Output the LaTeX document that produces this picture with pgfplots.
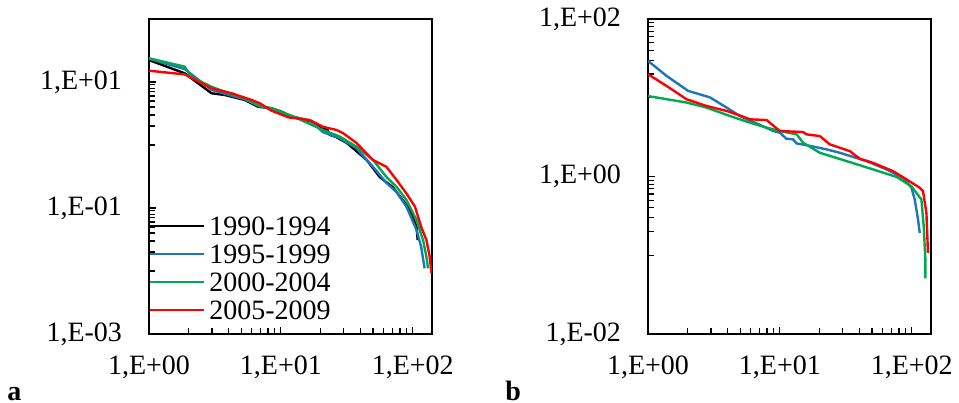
\documentclass[border=0pt]{standalone}
\usepackage{fontspec}
\setmainfont{Liberation Serif}
\usepackage{pgfplots}
\pgfplotsset{compat=1.18}

\definecolor{c90}{RGB}{0,0,0}
\definecolor{c95}{RGB}{31,117,188}
\definecolor{c00}{RGB}{0,168,80}
\definecolor{c05}{RGB}{255,0,0}

\newcommand{\lab}{\fontsize{14bp}{16bp}\selectfont}
\pgfplotsset{legend image code/.code={\draw[#1] (0bp,0bp) -- (27bp,0bp);}}

\begin{document}
\begin{tikzpicture}
\useasboundingbox (0,0) rectangle (479.5bp,201.5bp);

% panel a
\begin{axis}[
    at={(74.5bp,34.5bp)}, anchor=south west,
    xmode=log, ymode=log,
    scale only axis,
    width=141.5bp, height=157.5bp,
    xmin=1, xmax=140,
    xtick={1,10,100},
    xticklabels={{1,E+00},{1,E+01},{1,E+02}},
    minor xtick={2,3,4,5,6,7,8,9,20,30,40,50,60,70,80,90},
    ymin=0.001, ymax=100,
    ytick={0.001,0.1,10},
    yticklabels={{1,E-03},{1,E-01},{1,E+01}},
    minor ytick={0.01,0.02,0.03,0.04,0.05,0.06,0.07,0.08,0.09,1,2,3,4,5,6,7,8,9},
    tick pos=left, tick align=inside,
    major tick length=3.5bp, minor tick length=3bp,
    tick style={black, line width=0.6bp},
    axis line style={line width=0.75bp},
    tick label style={font=\lab},
    xticklabel style={yshift=-7.5bp},
    yticklabel style={xshift=-10bp},
    legend style={at={(rel axis cs:0,0)}, anchor=south west, yshift=5bp,
      draw=none, fill=none, inner sep=0pt, outer sep=0pt, row sep=0pt,
      font=\lab, column sep=2bp,
      nodes={inner sep=0pt, text height=11.6bp, text depth=2.4bp}},
    legend cell align=left,
  ]
  \addplot[c90, line width=1.2bp] coordinates {
    (1,22.3) (1.87,13.7) (2.98,6.62) (3.76,6.22) (5.34,5.18) (6.7,4.05)
    (8.5,3.83) (10.1,3.38) (12.1,2.81) (16.6,2.4) (20.8,1.84) (22.5,1.75)
    (23.5,1.45) (26,1.35) (31.6,1.08) (44.8,0.58) (56.2,0.31) (70.5,0.215)
    (84,0.134) (94.9,0.093) (107,0.05) (109,0.031)
  };
  \addlegendentry{1990-1994}
  \addplot[c95, line width=1.2bp] coordinates {
    (1,23.5) (1.87,16) (2.98,7.5) (3.76,6.5) (5.34,5.3) (6.7,4.2) (8.5,3.7)
    (12.1,2.85) (16.6,2.45) (20.9,1.6) (28,1.28) (37.4,0.89) (50,0.45)
    (63.2,0.25) (75.3,0.18) (89.6,0.105) (106.7,0.045) (116,0.024) (123,0.011)
  };
  \addlegendentry{1995-1999}
  \addplot[c00, line width=1.2bp] coordinates {
    (1,23.8) (1.87,17.5) (2.08,12.1) (2.98,8.4) (3.76,7.0) (5.34,5.5) (6.7,4.3)
    (8.5,3.83) (12.1,2.9) (20.9,1.73) (28,1.36) (37.4,0.94) (50,0.58)
    (63.2,0.31) (75.3,0.218) (89.6,0.134) (106.7,0.065) (119.7,0.031)
    (127,0.0169) (130.6,0.011)
  };
  \addlegendentry{2000-2004}
  \addplot[c05, line width=1.2bp] coordinates {
    (1,15.1) (1.87,13.2) (2.98,7.94) (4.23,6.62) (6.0,5.18) (6.93,4.59)
    (8.5,3.5) (11.4,2.75) (16.6,2.49) (20.8,1.95) (26.4,1.73) (29.5,1.55)
    (37.4,1.08) (49.8,0.58) (63.2,0.45) (75.3,0.28) (89.6,0.17) (104,0.105)
    (116,0.05) (127,0.031) (134.5,0.0169) (138.6,0.0093)
  };
  \addlegendentry{2005-2009}
\end{axis}

% panel b
\begin{axis}[
    at={(324bp,34.5bp)}, anchor=south west,
    xmode=log, ymode=log,
    scale only axis,
    width=141.5bp, height=157.5bp,
    xmin=1, xmax=140,
    xtick={1,10,100},
    xticklabels={{1,E+00},{1,E+01},{1,E+02}},
    minor xtick={2,3,4,5,6,7,8,9,20,30,40,50,60,70,80,90},
    ymin=0.01, ymax=100,
    ytick={0.01,1,100},
    yticklabels={{1,E-02},{1,E+00},{1,E+02}},
    minor ytick={0.1,0.2,0.3,0.4,0.5,0.6,0.7,0.8,0.9,10,20,30,40,50,60,70,80,90},
    tick pos=left, tick align=inside,
    major tick length=3.5bp, minor tick length=3bp,
    tick style={black, line width=0.6bp},
    axis line style={line width=0.75bp},
    tick label style={font=\lab},
    xticklabel style={yshift=-7.5bp},
    yticklabel style={xshift=-10bp},
  ]
  \addplot[c95, line width=1.2bp] coordinates {
    (1.0,29.4) (1.385,18.9) (2.02,12.2) (2.95,10.1) (3.95,7.50) (4.98,5.86)
    (6.66,4.73) (8.90,3.78) (10.0,3.60) (11.2,3.02) (12.6,2.96) (13.4,2.63)
    (15.9,2.5) (22.6,2.21) (28.5,2.0) (45.4,1.57) (64.3,1.23) (85.9,0.96)
    (99.5,0.72) (105.4,0.51) (111.7,0.283) (115,0.192)
  };
  \addplot[c00, line width=1.2bp] coordinates {
    (1.0,10.5) (1.96,8.69) (2.78,7.50) (4.18,5.86) (5.93,4.83) (7.93,4.17)
    (10.0,3.78) (13.4,3.43) (15.0,2.69) (20.1,2.00) (32.0,1.57) (50.9,1.23)
    (76.5,0.99) (99.5,0.75) (118.4,0.51) (123.3,0.233) (126.9,0.088) (126.9,0.051)
  };
  \addplot[c05, line width=1.2bp] coordinates {
    (1.0,19.9) (1.385,14.1) (1.96,9.57) (2.78,7.86) (3.95,6.80) (4.70,6.16)
    (5.93,5.32) (7.93,5.21) (10.0,3.78) (15.0,3.67) (15.9,3.43) (20.1,3.26)
    (23.9,2.56) (33.9,2.10) (40.4,1.68) (50.9,1.49) (72.1,1.17) (91.1,0.92)
    (115,0.72) (121.8,0.65) (129.2,0.345) (132.8,0.107)
  };
\end{axis}

\node[anchor=base west, font=\lab\bfseries, inner sep=0pt] at (3.5bp,1.5bp) {a};
\node[anchor=base west, font=\lab\bfseries, inner sep=0pt] at (252.5bp,1.5bp) {b};
\end{tikzpicture}
\end{document}
